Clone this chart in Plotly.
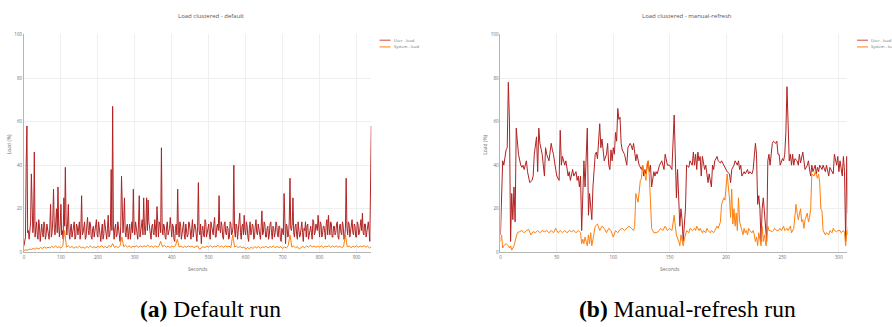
import plotly.graph_objects as go

# ---------------- data: default run (left), sampled every 2 s ----------------
default_step_user = 2
default_user = [
    3, 5, 7, 41, 58, 9, 10, 6, 12, 14, 36, 10, 9, 13, 46, 7, 11, 14, 8, 6, 15, 12, 5, 10, 13, 9, 7, 14, 12, 6, 8, 13, 11, 9, 6, 12, 22, 7, 9, 15,
    29, 11, 8, 14, 20, 9, 30, 12, 7, 13, 22, 8, 10, 6, 25, 12, 39, 14, 8, 13, 22, 9, 6, 11, 13, 7, 9, 12, 14, 6, 7, 13, 12, 8, 10, 14, 6, 11, 26, 8,
    9, 12, 14, 6, 7, 12, 16, 10, 8, 14, 13, 7, 6, 11, 12, 7, 9, 13, 15, 8, 7, 14, 11, 9, 5, 10, 13, 6, 8, 15, 12, 9, 6, 11, 17, 7, 8, 12, 38, 10,
    67, 12, 6, 11, 13, 7, 8, 14, 12, 8, 5, 12, 35, 11, 9, 15, 25, 9, 7, 12, 13, 6, 10, 13, 6, 10, 14, 9, 29, 11, 8, 14, 12, 9, 6, 13, 26, 7, 9, 13,
    15, 8, 25, 12, 8, 13, 25, 10, 24, 14, 10, 7, 6, 12, 13, 9, 8, 15, 12, 7, 21, 10, 7, 14, 13, 9, 48, 11, 8, 13, 12, 7, 6, 12, 14, 8, 9, 11, 16, 9,
    7, 13, 12, 6, 5, 11, 13, 8, 29, 10, 7, 14, 12, 6, 9, 12, 14, 8, 6, 13, 11, 7, 8, 14, 13, 9, 6, 11, 15, 7, 9, 13, 12, 8, 5, 12, 32, 10, 8, 13,
    4, 10, 12, 8, 7, 15, 14, 7, 9, 12, 13, 8, 6, 14, 12, 9, 8, 13, 16, 7, 7, 12, 13, 10, 26, 11, 9, 14, 12, 7, 6, 13, 14, 9, 8, 12, 11, 6, 7, 14,
    13, 8, 9, 12, 40, 10, 7, 13, 12, 6, 9, 14, 18, 9, 6, 12, 13, 8, 17, 10, 8, 14, 12, 7, 5, 11, 14, 8, 9, 13, 12, 6, 7, 12, 15, 9, 8, 13, 11, 7,
    6, 12, 19, 8, 9, 14, 13, 7, 7, 11, 12, 6, 8, 13, 14, 9, 6, 12, 11, 7, 9, 14, 13, 8, 7, 12, 12, 6, 5, 11, 10, 8, 27, 9, 4, 13, 12, 7, 8, 14,
    34, 11, 10, 13, 25, 9, 7, 12, 13, 8, 6, 14, 11, 7, 8, 13, 14, 9, 5, 11, 10, 14, 7, 12, 13, 6, 8, 12, 12, 9, 6, 15, 14, 8, 9, 13, 12, 10, 17, 8,
    7, 14, 13, 7, 8, 12, 12, 9, 6, 13, 15, 8, 17, 11, 8, 14, 13, 7, 7, 12, 12, 8, 9, 13, 14, 7, 6, 12, 13, 9, 8, 14, 12, 6, 7, 11, 34, 12, 8, 14,
    13, 7, 9, 12, 15, 9, 8, 13, 12, 7, 7, 14, 13, 8, 9, 12, 15, 10, 18, 9, 8, 13, 13, 7, 9, 12, 14, 10, 5, 30, 58,
]
default_step_sys = 5
default_sys = [
    0.8, 1.2, 1.0, 1.5, 1.3, 1.8, 1.4, 2.0, 1.6, 2.2, 1.8, 2.5, 1.9, 2.3, 2.0, 2.8, 2.1, 3.0, 2.2, 2.6,
    2.0, 2.8, 10, 2.4, 3.0, 2.2, 2.7, 1.9, 2.6, 2.1, 2.9, 2.0, 2.5, 1.8, 2.7, 2.2, 3.0, 2.1, 2.6, 2.0,
    2.8, 2.3, 3.1, 2.2, 2.7, 2.0, 3.2, 2.4, 4.0, 2.2, 2.8, 2.1, 3.0, 7.0, 2.6, 3.2, 2.4, 3.0, 2.2, 2.8,
    2.5, 3.1, 2.3, 2.9, 2.4, 3.0, 2.6, 3.3, 2.5, 2.9, 2.3, 3.0, 2.4, 2.8, 5.0, 2.6, 3.2, 2.4, 2.9, 2.2,
    2.8, 2.5, 3.0, 6.0, 2.4, 2.9, 2.2, 2.8, 2.3, 3.0, 2.5, 2.9, 2.2, 2.7, 3.0, 1.5, 2.0, 2.6, 2.2, 2.9,
    2.4, 3.1, 2.3, 2.8, 2.5, 3.2, 2.4, 2.9, 2.3, 3.0, 2.5, 2.8, 2.2, 8.0, 2.4, 2.9, 2.2, 2.7, 2.0, 2.5,
    1.5, 2.2, 1.6, 2.4, 1.8, 2.6, 2.0, 2.7, 1.9, 2.5, 2.2, 2.8, 2.0, 2.6, 2.3, 2.9, 2.1, 2.7, 2.2, 2.6,
    1.8, 2.5, 2.0, 3.0, 8.0, 2.4, 2.9, 2.1, 2.6, 1.6, 2.2, 2.7, 2.1, 2.9, 2.4, 3.2, 2.5, 2.9, 2.3, 2.8,
    2.4, 3.0, 2.2, 2.8, 2.5, 3.1, 2.3, 2.9, 2.4, 3.0, 2.3, 2.8, 2.1, 2.7, 8.0, 2.5, 2.9, 2.2, 2.8, 2.4,
    3.0, 2.3, 2.9, 2.5, 3.1, 2.4, 2.8, 2.0, 2.6,
]
default_user_t = [i * default_step_user for i in range(len(default_user))]
default_sys_t = [i * default_step_sys for i in range(len(default_sys))]

# ---------------- data: manual-refresh run (right) ----------------
manual_user_t = [
    0, 2, 3, 5, 6, 7, 8, 9, 10, 11, 12, 13, 14, 16, 18, 19, 20, 21, 23, 24, 26, 28, 29, 30, 32, 33, 34, 35,
    37, 39, 40, 41, 43, 45, 46, 47, 49, 50, 52, 53, 54, 55, 57, 58, 60, 61, 62, 64, 65, 67, 68, 69, 70, 71,
    72, 74, 75, 76, 77, 78, 79, 81, 82, 84, 85, 86, 87, 88, 89, 90, 92, 94, 95, 96, 97, 98, 99, 100, 101,
    102, 103, 104, 105, 106, 107, 108, 110, 112, 113, 115, 116, 117, 118, 120, 121, 123, 125, 126, 127, 128,
    129, 130, 131, 132, 133, 134, 135, 136, 137, 138, 139, 141, 143, 145, 146, 148, 150, 152, 154, 155, 156,
    157, 158, 159, 160, 161, 162, 164, 165, 167, 168, 170, 171, 172, 173, 174, 175, 176, 177, 178, 179, 181,
    182, 184, 185, 187, 188, 189, 190, 192, 193, 195, 196, 198, 199, 201, 203, 204, 205, 207, 208, 210, 211,
    212, 213, 214, 216, 217, 219, 220, 221, 223, 224, 226, 227, 227.5, 228, 229, 230, 231, 232, 233, 234, 235,
    236, 237, 238, 239, 240, 241, 242, 244, 245, 246, 247, 248, 250, 251, 252, 253, 254, 255, 256, 257, 258,
    259, 260, 261, 263, 264, 265, 266, 268, 269, 270, 272, 273, 274, 275, 276, 277, 279, 280, 281, 282, 283,
    285, 286, 288, 289, 291, 292, 293, 295, 296, 298, 299, 300, 301, 302, 303, 304, 305, 306, 306.5, 307, 308,
]
manual_user = [
    8, 42, 40, 47, 48, 78, 60, 5, 27, 15, 30, 14, 57, 45, 40, 39, 40, 38, 42, 37, 32, 33, 35, 45, 53, 37, 57, 50,
    45, 35, 48, 45, 42, 50, 47, 45, 38, 35, 33, 56, 40, 44, 40, 42, 35, 37, 33, 38, 35, 37, 33, 35, 30, 35,
    10, 42, 30, 50, 57, 17, 27, 15, 30, 45, 46, 43, 50, 59, 48, 52, 42, 45, 50, 40, 38, 47, 42, 48, 45,
    55, 51, 66, 61, 62, 50, 47, 45, 40, 48, 50, 49, 47, 50, 42, 45, 40, 38, 40, 35, 38,
    36, 40, 42, 37, 40, 30, 33, 37, 35, 37, 36, 40, 42, 38, 45, 40, 40, 38, 63, 40, 25,
    38, 20, 12, 20, 15, 5, 20, 40, 39, 42, 40, 46, 40, 45, 38, 46, 42, 44, 35, 44, 38,
    40, 32, 36, 30, 40, 38, 42, 44, 42, 41, 42, 40, 39, 37, 36, 32, 38, 40, 42, 40, 42,
    38, 40, 35, 37, 36, 38, 36, 37, 36, 38, 50, 45, 30, 22, 26, 20, 5, 20, 25, 18, 12,
    5, 42, 45, 40, 47, 50, 51, 50, 51, 45, 45, 40, 43, 42, 45, 55, 76, 55, 42, 45, 40,
    45, 40, 43, 42, 40, 45, 41, 46, 42, 38, 40, 42, 38, 35, 40, 37, 40, 36, 39, 37, 40,
    38, 40, 37, 40, 35, 39, 38, 36, 45, 40, 44, 37, 42, 38, 35, 44, 37, 5, 40, 44, 18,
]
manual_sys_t = [
    0, 1, 2, 3, 5, 7, 8, 9, 10, 11, 12, 13, 14, 15, 17, 19, 21, 23, 25, 27, 29, 31, 33, 35, 37, 39, 41, 43,
    45, 47, 49, 51, 53, 55, 57, 59, 61, 63, 65, 67, 69, 71, 72, 73, 74, 75, 76, 77, 78, 79, 80, 81, 83, 84,
    86, 88, 90, 92, 94, 96, 98, 100, 102, 104, 106, 108, 110, 112, 114, 116, 118, 119, 120, 122, 124, 125,
    126, 127, 128, 129, 130, 131, 132, 133, 134, 136, 138, 140, 142, 144, 146, 148, 150, 152, 154, 155, 156,
    158, 159, 160, 162, 163, 165, 167, 168, 170, 172, 173, 174, 176, 177, 179, 180, 182, 183, 184, 186, 187,
    189, 190, 192, 193, 195, 196, 198, 199, 201, 202, 203, 204, 205, 206, 207, 208, 209, 210, 211, 212, 213,
    214, 215, 216, 217, 218, 219, 220, 221, 223, 224, 225, 226, 227, 228, 229, 231, 232, 233, 234, 235.5, 237,
    238, 239, 241, 242, 243, 245, 246, 248, 249, 251, 252, 254, 255, 257, 258, 260, 261, 262, 263, 264, 266,
    267, 268, 269, 270, 272, 273, 274, 275, 276, 278, 279, 281, 282, 283, 284, 285, 286, 288, 289, 291, 292,
    294, 295, 296, 298, 299, 301, 302, 304, 305, 306, 307, 307.5, 308,
]
manual_sys = [
    5, 8, 2, 3, 4, 3, 2, 3, 1, 2, 3, 5, 8, 9, 9.5, 10, 9, 10, 10.5, 8, 9.5, 9, 10, 9, 10, 9.5, 10, 9,
    10, 9, 11, 9, 10, 9, 10, 9, 10, 9.5, 10, 9, 10, 9, 4, 6, 4, 7, 5, 3, 8, 4, 9, 3, 9, 12,
    13, 10, 12, 11, 9, 11, 10, 7, 10, 9, 10.5, 11, 10, 11, 12, 11, 10, 12, 27, 23, 33, 34,
    40, 38, 36, 33, 41, 42, 35, 25, 11, 9, 9, 9.5, 11, 10, 12, 10, 11, 10, 17, 12, 8,
    5, 3, 8, 3, 6, 10, 9, 11, 10, 11, 10, 12, 10, 11, 9, 10, 9, 11, 10, 9, 10,
    9, 10, 12, 11, 14, 22, 25, 24, 36, 30, 25, 16, 29, 13, 20, 12, 18, 10, 25, 14, 12,
    10, 8, 11, 9, 10, 8, 11, 10, 9, 10, 8, 5, 7, 3, 9, 3, 12, 5, 8, 3, 12,
    10, 10, 9.5, 10, 11, 10, 10, 11, 10, 12, 10, 11, 10, 12, 9, 11, 17, 22, 18, 15, 20,
    14, 15, 11, 15, 18, 14, 16, 20, 36, 35, 37, 34, 36, 32, 20, 19, 10, 8, 9, 8, 10,
    9, 11, 10, 9.5, 10, 10, 9, 10, 9, 3, 10, 8, 12,
]

titles = ["Load clustered - default", "Load clustered - manual-refresh"]
series_names = ["User - load", "System - load"]
captions = ["<b>(a)</b> Default run", "<b>(b)</b> Manual-refresh run"]
x_tick_steps = [100, 50]
x_ranges = [[0, 940], [0, 307.5]]

USER_C = "rgb(178,34,34)"
SYS_C = "rgb(255,127,14)"
LEG_USER_C = "rgb(222,130,130)"
LEG_SYS_C = "rgb(255,170,90)"
TXT = "#6f6f6f"
FONT = "Open Sans"

W, H = 892, 327
fig = go.Figure()

fig.add_trace(go.Scatter(x=default_user_t, y=default_user, mode="lines", name=series_names[0],
                         line=dict(color=USER_C, width=1), xaxis="x", yaxis="y", showlegend=False))
fig.add_trace(go.Scatter(x=default_sys_t, y=default_sys, mode="lines", name=series_names[1],
                         line=dict(color=SYS_C, width=1), xaxis="x", yaxis="y", showlegend=False))
fig.add_trace(go.Scatter(x=manual_user_t, y=manual_user, mode="lines", name=series_names[0],
                         line=dict(color=USER_C, width=1), xaxis="x2", yaxis="y2", showlegend=False))
fig.add_trace(go.Scatter(x=manual_sys_t, y=manual_sys, mode="lines", name=series_names[1],
                         line=dict(color=SYS_C, width=1), xaxis="x2", yaxis="y2", showlegend=False))

px = lambda v: v / W
py = lambda v: 1 - v / H

plot_left = [23, 500]
plot_right = [370.7, 847.3]
top, bottom = 32, 254

axis_common = dict(showgrid=True, gridcolor="#efefef", gridwidth=1, zeroline=False,
                   showline=True, linecolor="#b5b5b5", linewidth=1,
                   tickfont=dict(family=FONT, size=4.5, color=TXT), ticks="")

layout = dict(width=W, height=H, margin=dict(l=0, r=0, t=0, b=0),
              paper_bgcolor="white", plot_bgcolor="white", showlegend=False)
for k in range(2):
    sx = "" if k == 0 else "2"
    layout["xaxis" + sx] = dict(axis_common, domain=[px(plot_left[k]), px(plot_right[k])],
                                range=x_ranges[k], dtick=x_tick_steps[k], tick0=0,
                                anchor="y" + sx)
    layout["yaxis" + sx] = dict(axis_common, domain=[py(bottom), py(top)], range=[0, 100],
                                dtick=20, tick0=0, anchor="x" + sx)
fig.update_layout(**layout)

annotations = []
shapes = []
title_cx = [210, 687]
xtitle_cx = [197, 670]
ytitle_x = [8, 485]
legend_x = [379, 857]
for k in range(2):
    annotations.append(dict(text=titles[k], x=px(title_cx[k]), y=py(13), xref="paper", yref="paper",
                            showarrow=False, xanchor="center", yanchor="middle",
                            font=dict(family=FONT, size=6, color="#555")))
    annotations.append(dict(text="Seconds", x=px(xtitle_cx[k]), y=py(271), xref="paper", yref="paper",
                            showarrow=False, xanchor="center", yanchor="middle",
                            font=dict(family=FONT, size=5, color=TXT)))
    annotations.append(dict(text="Load (%)", x=px(ytitle_x[k]), y=py(144), xref="paper", yref="paper",
                            showarrow=False, xanchor="center", yanchor="middle", textangle=-90,
                            font=dict(family=FONT, size=5, color=TXT)))
    annotations.append(dict(text=captions[k], x=px(title_cx[k]), y=py(312), xref="paper", yref="paper",
                            showarrow=False, xanchor="center", yanchor="middle",
                            font=dict(family="Liberation Serif", size=23.5, color="black")))
    for j, (nm, c) in enumerate(zip(series_names, [LEG_USER_C, LEG_SYS_C])):
        yy = 38 + j * 6.7
        shapes.append(dict(type="line", xref="paper", yref="paper",
                           x0=px(legend_x[k]), x1=px(legend_x[k] + 11), y0=py(yy), y1=py(yy),
                           line=dict(color=c, width=1.5)))
        annotations.append(dict(text=nm, x=px(legend_x[k] + 12), y=py(yy), xref="paper", yref="paper",
                                showarrow=False, xanchor="left", yanchor="middle",
                                font=dict(family=FONT, size=4, color=TXT)))
fig.update_layout(annotations=annotations, shapes=shapes)

fig.write_html("out.html", config={"displayModeBar": False},
               post_script="document.body.style.margin='0px';document.body.style.padding='0px';")
